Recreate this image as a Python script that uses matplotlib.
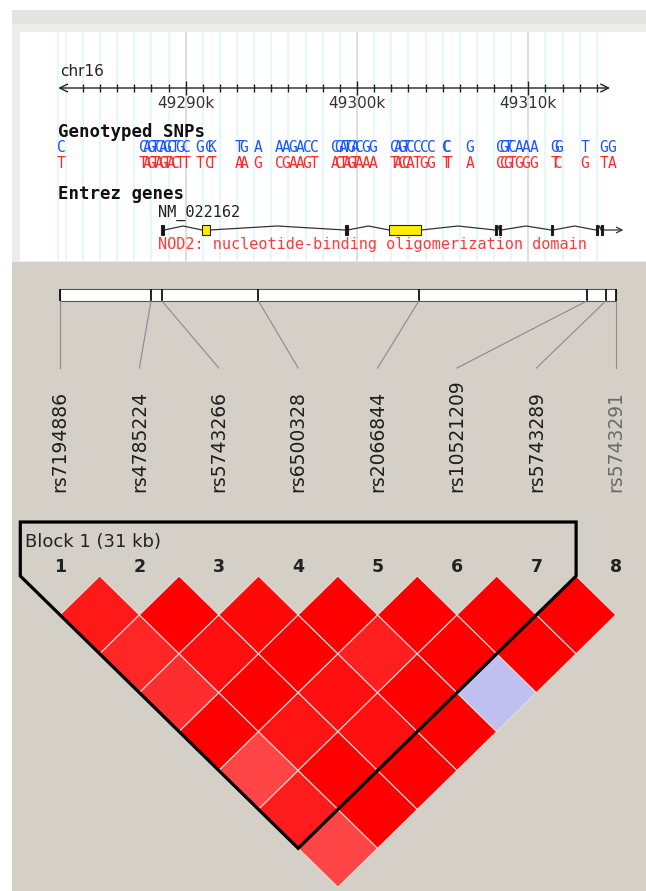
import matplotlib
matplotlib.use("Agg")
import matplotlib.pyplot as plt
from matplotlib.patches import Rectangle, Polygon

# ---------------- data ----------------
# LD plot (Haploview style)
snp_names = ["rs7194886", "rs4785224", "rs5743266", "rs6500328",
             "rs2066844", "rs10521209", "rs5743289", "rs5743291"]
snp_pos = [49284000, 49289168, 49289793, 49295270,
           49304380, 49313920, 49315000, 49315570]

# D' for SNP i vs SNP i+1 .. 8
dprime = [
    [0.90, 0.85, 0.82, 1.00, 0.73, 0.89, 0.73],
    [1.00, 0.94, 1.00, 0.92, 1.00, 1.00],
    [0.97, 1.00, 0.94, 0.94, 1.00],
    [1.00, 0.88, 1.00, 1.00],
    [1.00, 1.00, 1.00],
    [1.00, 1.00],
    [1.00],
]
low_lod = [(4, 7)]          # pairs with LOD < 2
block = (0, 6)              # block 1 spans SNP 1..7

# genome browser track (kb on chr16)
chrom = "chr16"
chrom_start_kb = 49282.56
chrom_end_kb = 49314.77
major_ticks_kb = [49290, 49300, 49310]

track_kb = [49282.72,
            49287.51, 49287.74, 49287.97, 49288.21, 49288.44, 49288.68,
            49288.91, 49289.14, 49289.38, 49289.67, 49290.02,
            49290.83, 49291.36, 49291.55,
            49293.11, 49293.40, 49294.22,
            49295.45, 49295.86, 49296.26, 49296.67, 49297.08, 49297.49,
            49298.72, 49298.95, 49299.18, 49299.42, 49299.65, 49299.88,
            49300.12, 49300.53, 49300.93,
            49302.16, 49302.39, 49302.62, 49302.86, 49303.09, 49303.50,
            49303.91, 49304.32,
            49305.22, 49305.30, 49306.60,
            49308.35, 49308.58, 49308.81, 49309.05, 49309.46, 49309.87,
            49310.34,
            49311.55, 49311.75, 49313.31, 49314.42, 49314.89]
allele_a = ["C",
            "C", "A", "G", "T", "C", "A", "G", "C", "T", "G", "C",
            "G", "C", "K",
            "T", "G", "A",
            "A", "A", "G", "A", "C", "C",
            "C", "G", "A", "T", "G", "A", "C", "G", "G",
            "C", "A", "G", "T", "C", "C", "C", "C",
            "C", "C", "G",
            "C", "G", "T", "C", "A", "A", "A",
            "G", "G", "T", "G", "G"]
allele_b = ["T",
            "T", "A", "G", "T", "A", "G", "T", "A", "C", "T", "T",
            "T", "C", "T",
            "A", "A", "G",
            "C", "G", "A", "A", "G", "T",
            "A", "C", "T", "A", "G", "T", "A", "A", "A",
            "T", "A", "C", "C", "A", "T", "G", "G",
            "T", "T", "A",
            "C", "C", "G", "T", "G", "G", "G",
            "T", "C", "G", "T", "A"]

gene_id = "NM_022162"
gene_desc = "NOD2: nucleotide-binding oligomerization domain"
gene_start_kb = 49288.57
gene_end_kb = 49315.55
exon_start_kb = [49288.57, 49290.95, 49299.30, 49301.88, 49308.05, 49308.30,
                 49311.33, 49313.95, 49314.25]
exon_end_kb = [49288.75, 49291.40, 49299.45, 49303.75, 49308.17, 49308.42,
               49311.45, 49314.07, 49314.37]
exon_kind = ["plain", "domain", "plain", "domain", "plain", "plain",
             "plain", "plain", "plain"]

# ---------------- figure ----------------
W, H = 646, 891
fig = plt.figure(figsize=(W / 100, H / 100), dpi=100)
fig.patch.set_facecolor("white")


def px_axes(x0, y0, x1, y1):
    ax = fig.add_axes([x0 / W, 1 - y1 / H, (x1 - x0) / W, (y1 - y0) / H])
    ax.set_xticks([])
    ax.set_yticks([])
    for s in ax.spines.values():
        s.set_visible(False)
    return ax


# light frame behind the browser image
fig.add_artist(Rectangle((12 / W, 1 - 262 / H), 634 / W, 252 / H,
                         transform=fig.transFigure, fc="#ececea", ec="none",
                         zorder=-5))
fig.add_artist(Rectangle((12 / W, 1 - 24 / H), 634 / W, 14 / H,
                         transform=fig.transFigure, fc="#e4e4e2", ec="none",
                         zorder=-4))

# ---------------- browser panel ----------------
ax = px_axes(20, 32, 646, 261)
ax.set_facecolor("white")
px_per_kb = 17.13
ax.set_xlim(49290 - 165.7 / px_per_kb, 49290 + 460.3 / px_per_kb)
ax.set_ylim(261, 32)

grid_kb = [chrom_start_kb] + list(range(49283, 49315))
for k in grid_kb:
    col = "#d6d6d6" if k in major_ticks_kb else "#dcf7fb"
    ax.axvline(k, color=col, lw=1.1, zorder=0)

ax.text(chrom_start_kb + 0.1, 72, chrom, ha="left", va="center",
        fontsize=11, color="#222222", family="DejaVu Sans")
ax.annotate("", xy=(chrom_start_kb, 88), xytext=(chrom_end_kb, 88),
            arrowprops=dict(arrowstyle="<->", lw=1.0, color="#222222",
                            shrinkA=0, shrinkB=0, mutation_scale=14))
minor = [k for k in range(49284, 49315) if k not in major_ticks_kb]
ax.vlines(minor, 84, 92, color="#222222", lw=1.0)
ax.vlines(major_ticks_kb, 81, 95, color="#222222", lw=1.0)
for k in major_ticks_kb:
    ax.text(k, 104, f"{k}k", ha="center", va="center", fontsize=11,
            color="#333333", family="DejaVu Sans")

ax.text(chrom_start_kb, 132, "Genotyped SNPs", ha="left", va="center",
        fontsize=12.5, fontweight="bold", family="DejaVu Sans Mono", color="#111111")
for k, a, b in zip(track_kb, allele_a, allele_b):
    ax.text(k, 148, a, ha="center", va="center", fontsize=10.5,
            family="DejaVu Sans Mono", color="#1a55ff")
    ax.text(k, 163, b, ha="center", va="center", fontsize=10.5,
            family="DejaVu Sans Mono", color="#ff2a2a")

ax.text(chrom_start_kb, 194, "Entrez genes", ha="left", va="center",
        fontsize=12.5, fontweight="bold", family="DejaVu Sans Mono", color="#111111")
ax.text(gene_start_kb - 0.2, 213, gene_id, ha="left", va="center", fontsize=11,
        family="DejaVu Sans Mono", color="#222222")

# intron connectors (small hats between exons)
gene_y = 230
for e_end, n_start in zip(exon_end_kb[:-1], exon_start_kb[1:]):
    mid = (e_end + n_start) / 2
    ax.plot([e_end, mid, n_start], [gene_y, gene_y - 4, gene_y],
            color="#333333", lw=0.9, zorder=2)
ax.annotate("", xy=(gene_end_kb, gene_y), xytext=(exon_end_kb[-1], gene_y),
            arrowprops=dict(arrowstyle="->", lw=0.9, color="#333333",
                            shrinkA=0, shrinkB=0, mutation_scale=10))
for s, e, kind in zip(exon_start_kb, exon_end_kb, exon_kind):
    fc = "#ffee00" if kind == "domain" else "#111111"
    ax.add_patch(Rectangle((s, gene_y - 5), e - s, 10, fc=fc, ec="#222222",
                           lw=0.8, zorder=3))
ax.text(gene_start_kb - 0.2, 245, gene_desc, ha="left", va="center", fontsize=11,
        family="DejaVu Sans Mono", color="#ff3a3a")

# ---------------- LD panel ----------------
ld = px_axes(12, 262, 646, 891)
ld.set_facecolor("#d4d0c8")
dx = 79.4        # pixels between SNP columns
ld.set_xlim((12 - 60) / dx, (646 - 60) / dx)
ld.set_ylim(891, 262)

n = len(snp_names)
p0, p1 = snp_pos[0], snp_pos[-1]
bar_x = [(p - p0) / (p1 - p0) * (n - 1) for p in snp_pos]

ld.add_patch(Rectangle((0, 289), n - 1, 12, fc="white", ec="#555555", lw=0.8))
ld.vlines(bar_x, 289, 301, color="#111111", lw=1.3)
for i in range(n):
    ld.plot([bar_x[i], i], [301, 368], color="#8a8a8a", lw=0.8)
    ld.text(i, 492, snp_names[i], rotation=90, ha="center", va="bottom",
            fontsize=13.5, family="DejaVu Sans",
            color="#6a6a6a" if i == n - 1 else "#1e1e1e")

# diamonds
ytop = 576
hh = 38.9
for i, row in enumerate(dprime):
    for k, d in enumerate(row):
        j = i + k + 1
        cx = (i + j) / 2
        cy = ytop + (j - i) * hh
        if (i, j) in low_lod:
            col = "#c0c0f0"
        else:
            col = (1.0, 1 - d, 1 - d)
        ld.add_patch(Polygon([(cx - 0.5, cy), (cx, cy - hh), (cx + 0.5, cy), (cx, cy + hh)],
                             closed=True, fc=col, ec="#e4dcd6", lw=0.8, zorder=2))

# block outline
b0, b1 = block
top_y = 522
outline = [(b0 - 0.5, top_y), (b0 - 0.5, ytop),
           ((b0 + b1) / 2, ytop + (b1 - b0 + 1) * hh),
           (b1 + 0.5, ytop), (b1 + 0.5, top_y)]
ld.add_patch(Polygon(outline, closed=True, fill=False, ec="black", lw=2.3,
                     joinstyle="miter", zorder=4))
size_kb = round((snp_pos[b1] - snp_pos[b0]) / 1000)
ld.text(b0 - 0.44, 542, f"Block 1 ({size_kb} kb)", ha="left", va="center",
        fontsize=13, family="DejaVu Sans", color="#222222")
for i in range(n):
    ld.text(i, 567, str(i + 1), ha="center", va="center", fontsize=12.5,
            fontweight="bold", family="DejaVu Sans", color="#222222")

fig.savefig("out.png", dpi=100)
